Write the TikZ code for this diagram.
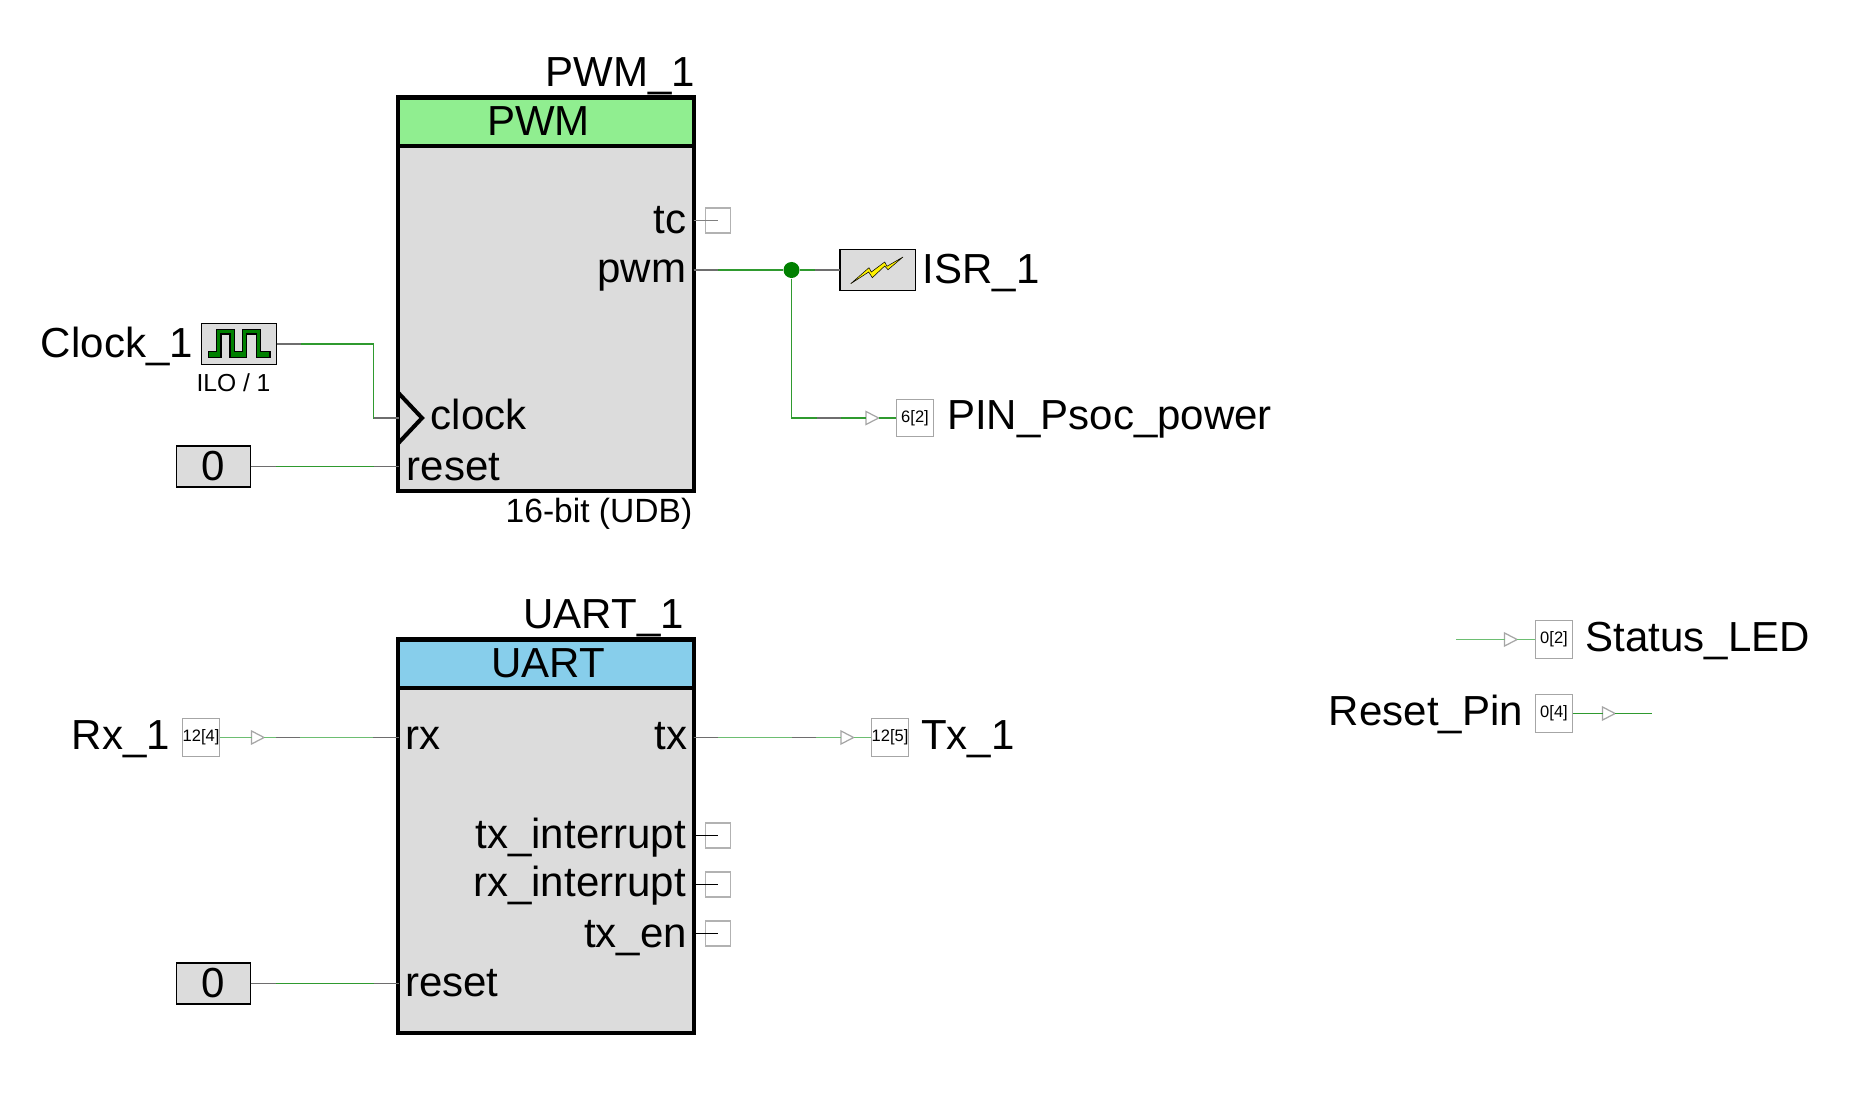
\documentclass[tikz,border=0pt]{standalone}
\usepackage{fontspec}
\setmainfont{Liberation Sans}
\usetikzlibrary{shapes.geometric}
\definecolor{blockgray}{HTML}{DCDCDC}
\definecolor{pwmgreen}{HTML}{90EE90}
\definecolor{uartblue}{HTML}{87CEEB}
\definecolor{dotgreen}{HTML}{008000}
\definecolor{wiregreen}{HTML}{2F9A2F}
\definecolor{wirelight}{HTML}{6DBE72}
\definecolor{wirehead}{HTML}{6E6E6E}
\tikzset{
	blockbody/.style={draw=black,fill=blockgray,line width=1.14pt,inner sep=0pt,outer sep=0pt},
	smallbox/.style={draw=black,fill=blockgray,line width=.3pt,inner sep=0pt,outer sep=0pt},
	pinbox/.style={draw=gray!70,fill=white,line width=.4pt,inner sep=0pt,outer sep=0pt,minimum size=.375cm,font=\fontsize{4.7}{5}\selectfont},
	stubbox/.style={draw=gray!60,line width=.35pt,inner sep=0pt,outer sep=0pt,minimum size=.25cm},
	pintri/.style={shape=isosceles triangle,draw=gray!70,fill=white,line width=.35pt,inner sep=0pt,outer sep=0pt,isosceles triangle stretches,minimum width=.13cm,minimum height=.125cm},
	bigtext/.style={inner sep=0pt,font=\fontsize{11.95}{13}\selectfont},
	wire/.style={wiregreen,line width=.33pt},
	lightwire/.style={wirelight,line width=.4pt},
	headwire/.style={wirehead,line width=.35pt}
}
\begin{document}
\begin{tikzpicture}[x=0.01cm,y=-0.01cm]
	\useasboundingbox (0,0) rectangle (1861,1094);
	% PWM block
	\node[blockbody,minimum width=2.95cm,minimum height=3.935cm] (pwmbody) at (546,294){};
	\node[blockbody,fill=pwmgreen,minimum width=2.95cm,minimum height=.485cm] (pwmhead) at (546,121.8){};
	\draw[line width=1.14pt,miter limit=10] (398.5,393)--(422,418)--(398.5,443);
	\node[bigtext,anchor=base east] (pwmname) at (695.5,87){PWM\_1};
	\node[bigtext,anchor=base] (pwmtitle) at (538.5,136){PWM};
	\node[bigtext,anchor=base east] (pwmtc) at (687,234){tc};
	\node[bigtext,anchor=base east] (pwmout) at (687,282){pwm};
	\node[bigtext,anchor=base west] (pwmclock) at (430,429){clock};
	\node[bigtext,anchor=base west] (pwmreset) at (406,480){reset};
	\node[inner sep=0pt,anchor=base east,font=\fontsize{9.55}{11}\selectfont] (pwmsize) at (693,522){16-bit (UDB)};
	\coordinate (pwmclkpin) at (398.5,418);
	\coordinate (pwmrstpin) at (398.5,466.5);
	\coordinate (pwmtcpin) at (693.5,220.5);
	\coordinate (pwmoutpin) at (693.5,270);
	% UART block
	\node[blockbody,minimum width=2.95cm,minimum height=3.935cm] (uartbody) at (546,836){};
	\node[blockbody,fill=uartblue,minimum width=2.95cm,minimum height=.485cm] (uarthead) at (546,663.8){};
	\node[bigtext,anchor=base east] (uartname) at (684.5,628){UART\_1};
	\node[bigtext,anchor=base] (uarttitle) at (548,677){UART};
	\node[bigtext,anchor=base west] (uartrx) at (405,749){rx};
	\node[bigtext,anchor=base east] (uarttx) at (688,749){tx};
	\node[bigtext,anchor=base east] (uarttxint) at (686.5,848){tx\_interrupt};
	\node[bigtext,anchor=base east] (uartrxint) at (686.5,896){rx\_interrupt};
	\node[bigtext,anchor=base east] (uarttxen) at (687.5,947){tx\_en};
	\node[bigtext,anchor=base west] (uartreset) at (404.5,996){reset};
	\coordinate (uartrxpin) at (398.5,737.5);
	\coordinate (uarttxpin) at (693.5,737.5);
	\coordinate (uartrstpin) at (398.5,983.5);
	% unconnected outputs
	\node[stubbox] (pwmtcstub) at (718,220.5){};
	\foreach \n/\y in {txint/835.5,rxint/884.5,txen/933.5}{
		\node[stubbox] (\n stub) at (718,\y){};
		\draw[black,line width=.3pt] (694,\y)--(\n stub.center);}
	\draw[gray,line width=.35pt] (pwmtcpin)--(pwmtcstub.center);
	% clock
	\node[smallbox,minimum width=.75cm,minimum height=.41cm] (clk) at (239,344){};
	\draw[black,fill=dotgreen,line width=.3pt] (208.3,357.3)--(208.3,351.7)--(216.7,351.7)--(216.7,329.3)--(234.3,329.3)--(234.3,351.7)--(242.7,351.7)--(242.7,329.3)--(260.7,329.3)--(260.7,351.7)--(270,351.7)--(270,357.3)--(256.7,357.3)--(256.7,334)--(246.7,334)--(246.7,357.3)--(230,357.3)--(230,334)--(221,334)--(221,357.3)--cycle;
	\node[bigtext,anchor=base east] (clkname) at (193.5,357){Clock\_1};
	\node[inner sep=0pt,anchor=base,font=\fontsize{7}{8}\selectfont] (clkdiv) at (233.5,391){ILO / 1};
	\draw[wire] (clk.east)-|(373.5,418)--(pwmclkpin);
	\draw[headwire] (clk.east)--++(24.5,0);
	\draw[headwire] (373.5,418)--(pwmclkpin);
	% zero on reset, PWM
	\node[smallbox,minimum width=.74cm,minimum height=.41cm,font=\fontsize{11.95}{13}\selectfont] (zeroa) at (213.5,466.5){0};
	\draw[wire] (zeroa.east)--(pwmrstpin);
	\draw[headwire] (zeroa.east)--++(25,0);
	\draw[headwire] (373.5,466.5)--(pwmrstpin);
	% zero on reset, UART
	\node[smallbox,minimum width=.74cm,minimum height=.41cm,font=\fontsize{11.95}{13}\selectfont] (zerob) at (213.5,983.5){0};
	\draw[wire] (zerob.east)--(uartrstpin);
	\draw[headwire] (zerob.east)--++(25,0);
	\draw[headwire] (373.5,983.5)--(uartrstpin);
	% interrupt
	\node[smallbox,minimum width=.75cm,minimum height=.41cm] (isr) at (877.5,270){};
	\draw[black,fill=yellow,line width=.15pt] (850.7,283.7)--(869,267.7)--(871.3,272)--(884.7,262)--(887,266.3)--(903,257)--(888,269.7)--(884.7,266)--(872.3,277.7)--(868.7,272)--cycle;
	\node[bigtext,anchor=base west] (isrname) at (922,283){ISR\_1};
	\node[circle,fill=dotgreen,minimum size=.16cm,inner sep=0pt] (pwmdot) at (791.5,270){};
	\draw[wire] (pwmoutpin)--(pwmdot);
	\draw[wire] (pwmdot)--(isr.west);
	\draw[headwire] (pwmoutpin)--++(24.5,0);
	\draw[headwire] (isr.west)--++(-24.5,0);
	% power pin
	\node[pinbox] (pinpwr) at (915,418){6[2]};
	\node[pintri] (pinpwrtri) at (870,418){};
	\node[bigtext,anchor=base west] (pinpwrname) at (946.5,429){PIN\_Psoc\_power};
	\draw[wire] (pwmdot)|-(pinpwrtri.west);
	\draw[wire] (pinpwrtri.east)--(pinpwr.west);
	\draw[headwire] (816.5,418)--(841,418);
	% Rx pin
	\node[pinbox] (rxpin) at (201,737.5){12[4]};
	\node[pintri] (rxtri) at (255.5,737.5){};
	\node[bigtext,anchor=base east] (rxname) at (170.5,749){Rx\_1};
	\draw[lightwire] (rxpin.east)--(rxtri.west);
	\draw[lightwire] (rxtri.east)--(uartrxpin);
	\draw[headwire] (276,737.5)--(300,737.5);
	\draw[headwire] (373,737.5)--(uartrxpin);
	% Tx pin
	\node[pinbox] (txpin) at (890,737.5){12[5]};
	\node[pintri] (txtri) at (845,737.5){};
	\node[bigtext,anchor=base west] (txname) at (920.5,749){Tx\_1};
	\draw[lightwire] (uarttxpin)--(txtri.west);
	\draw[lightwire] (txtri.east)--(txpin.west);
	\draw[headwire] (uarttxpin)--++(24,0);
	\draw[headwire] (792,737.5)--(816,737.5);
	% free pins
	\node[pinbox] (ledpin) at (1554,639.5){0[2]};
	\node[pintri] (ledtri) at (1508.5,639.5){};
	\node[bigtext,anchor=base west] (ledname) at (1585,651){Status\_LED};
	\coordinate (ledend) at (1456,639.5);
	\draw[lightwire] (ledend)--(ledtri.west);
	\draw[lightwire] (ledtri.east)--(ledpin.west);
	\node[pinbox] (rstpin) at (1554,713.5){0[4]};
	\node[pintri] (rsttri) at (1606.5,713.5){};
	\node[bigtext,anchor=base east] (rstname) at (1523.5,725){Reset\_Pin};
	\coordinate (rstend) at (1652,713.5);
	\draw[wire] (rstpin.east)--(rsttri.west);
	\draw[wire] (rsttri.east)--(rstend);
\end{tikzpicture}
\end{document}
